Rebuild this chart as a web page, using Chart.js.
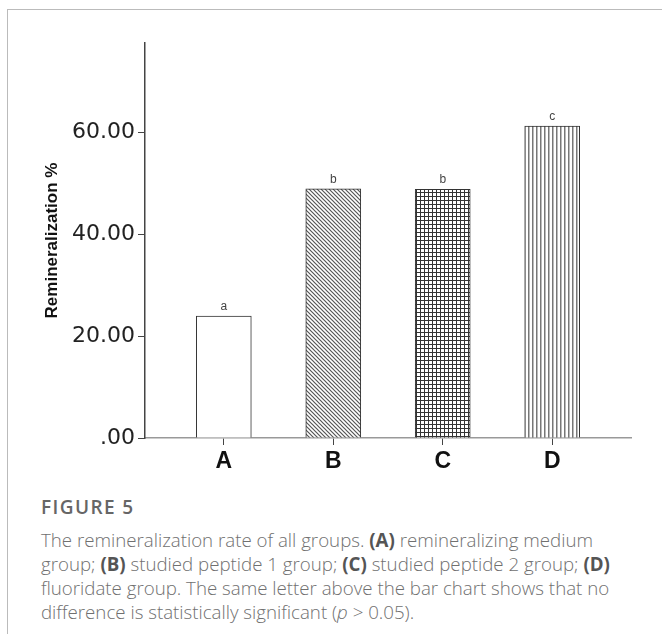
<!DOCTYPE html>
<html>
<head>
<meta charset="utf-8">
<script src="https://cdn.jsdelivr.net/npm/chart.js@4"></script>
<style>
  body { margin: 0; background: #fff; }
  #frame { position: absolute; left: 7px; top: 9px; width: 700px; height: 700px;
           border-top: 1px solid #bbb; border-left: 1px solid #bbb; }
  #chart { position: absolute; left: 0; top: 0; }
  #caption { position: absolute; left: 41px; top: 495px; font-family: "Open Sans", sans-serif;
             color: #707070; font-size: 18.7px; font-weight: 300; line-height: 24px; white-space: nowrap; }
  #caption .fig { font-size: 19px; font-weight: 600; letter-spacing: 1.4px; color: #666; margin-bottom: 9px; }
  #caption b { color: #555; font-weight: 700; }
</style>
</head>
<body>
<div id="frame"></div>
<canvas id="chart" width="662" height="480"></canvas>
<div id="caption">
  <div class="fig">FIGURE 5</div>
  The remineralization rate of all groups. <b>(A)</b> remineralizing medium<br>
  group; <b>(B)</b> studied peptide 1 group; <b>(C)</b> studied peptide 2 group; <b>(D)</b><br>
  fluoridate group. The same letter above the bar chart shows that no<br>
  difference is statistically significant (<i>p</i> &gt; 0.05).
</div>
<script>
const categories = ['A', 'B', 'C', 'D'];
const remineralization = [23.9, 48.9, 48.8, 61.2];
const sigLetters = ['a', 'b', 'b', 'c'];
const yTickValues = [0, 20, 40, 60];

// hatch fills like the SPSS output
function makePattern(kind) {
    const c = document.createElement('canvas');
    c.width = 4; c.height = 4;
    const g = c.getContext('2d');
    g.fillStyle = '#fff';
    g.fillRect(0, 0, 4, 4);
    if (kind === 'diag') {
        g.strokeStyle = '#555';
        g.lineWidth = 1.2;
        g.beginPath();
        g.moveTo(-1, -1); g.lineTo(5, 5);
        g.moveTo(-1, 3); g.lineTo(1, 5);
        g.moveTo(3, -1); g.lineTo(5, 1);
        g.stroke();
    } else if (kind === 'grid') {
        g.fillStyle = '#333';
        g.fillRect(0, 0, 4, 1);
        g.fillRect(0, 0, 1, 4);
    } else if (kind === 'vert') {
        g.fillStyle = '#777';
        g.fillRect(0, 0, 1.5, 4);
    } else {
        return '#fff';
    }
    return g.createPattern(c, 'repeat');
}
const fills = [makePattern('none'), makePattern('diag'), makePattern('grid'), makePattern('vert')];

const letterPlugin = {
    id: 'letters',
    afterDatasetsDraw(chart) {
        const ctx = chart.ctx;
        const meta = chart.getDatasetMeta(0);
        ctx.save();
        ctx.font = '12px "Liberation Sans", Arial, sans-serif';
        ctx.fillStyle = '#444';
        ctx.textAlign = 'center';
        ctx.textBaseline = 'alphabetic';
        meta.data.forEach((bar, i) => {
            ctx.fillText(sigLetters[i], bar.x, bar.y - 6);
        });
        ctx.restore();
    }
};

const ctx = document.getElementById('chart').getContext('2d');
const chart = new Chart(ctx, {
    type: 'bar',
    data: {
        datasets: [{
            data: categories.map((c, i) => ({ x: i, y: remineralization[i] })),
            backgroundColor: fills,
            borderColor: '#333',
            borderWidth: 1,
            barThickness: 55
        }]
    },
    options: {
        responsive: false,
        animation: false,
        devicePixelRatio: 1,
        layout: { padding: { top: 43, right: 31, left: 0, bottom: 0 } },
        plugins: { legend: { display: false }, tooltip: { enabled: false } },
        scales: {
            x: {
                type: 'linear',
                min: -0.72,
                max: 3.72,
                offset: false,
                grid: { offset: false, drawOnChartArea: false, color: '#444', tickLength: 7 },
                border: { color: '#999', width: 1.5 },
                afterBuildTicks: (scale) => { scale.ticks = categories.map((c, i) => ({ value: i })); },
                afterFit: (scale) => { scale.height = 42; },
                ticks: {
                    padding: 3,
                    color: '#111',
                    font: { family: '"Liberation Sans", Arial, sans-serif', size: 23, weight: 'bold' },
                    callback: (v) => categories[v]
                }
            },
            y: {
                min: 0,
                max: 77.5,
                grid: { drawOnChartArea: false, color: '#444', tickLength: 7 },
                border: { color: '#444', width: 1.5 },
                afterBuildTicks: (scale) => { scale.ticks = yTickValues.map(v => ({ value: v })); },
                afterFit: (scale) => { scale.width = 145; },
                ticks: {
                    padding: 3,
                    color: '#222',
                    font: { family: '"DejaVu Sans", sans-serif', size: 22 },
                    callback: (v) => v === 0 ? '.00' : v.toFixed(2)
                },
                title: {
                    display: true,
                    text: 'Remineralization %',
                    color: '#111',
                    padding: { top: 42, bottom: 0 },
                    font: { family: '"Liberation Sans", Arial, sans-serif', size: 17, weight: 'bold' }
                }
            }
        }
    },
    plugins: [letterPlugin]
});
</script>
</body>
</html>
